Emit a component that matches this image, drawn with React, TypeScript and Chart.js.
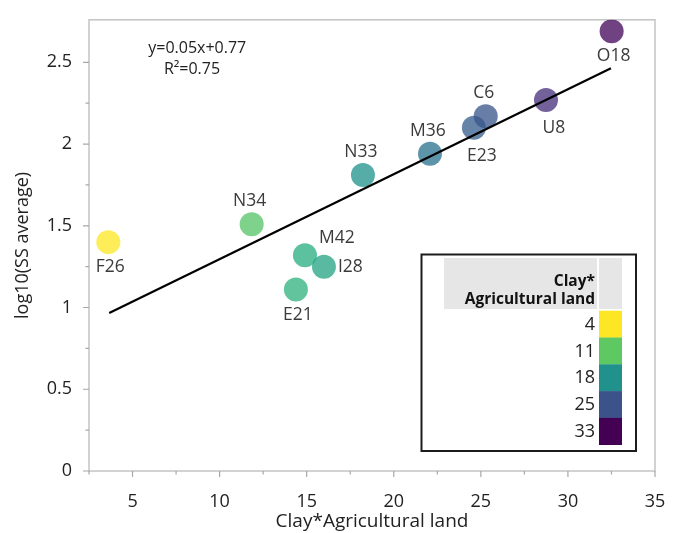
import React, { useEffect, useRef } from 'react';
import { Chart, registerables } from 'chart.js';

Chart.register(...registerables);

// ---------- data ----------
const siteLabels = ['F26', 'N34', 'M42', 'I28', 'E21', 'N33', 'M36', 'E23', 'C6', 'U8', 'O18'];
const clayAgri = [3.61, 11.84, 14.9, 15.99, 14.38, 18.23, 22.08, 24.6, 25.28, 28.74, 32.51];
const logSS = [1.4, 1.51, 1.32, 1.25, 1.11, 1.81, 1.94, 2.1, 2.17, 2.27, 2.69];
const labelPlacement = ['below', 'above', 'aboveRight', 'right', 'below', 'above', 'above', 'belowRight', 'above', 'belowRight', 'below'];
const fitX = [3.66, 32.47];
const fitY = [0.966, 2.464];
const xTicks = [5, 10, 15, 20, 25, 30, 35];
const xMinorTicks = [2.5, 7.5, 12.5, 17.5, 22.5, 27.5, 32.5];
const yTicks = [0, 0.5, 1, 1.5, 2, 2.5];
const yMinorTicks = [0.25, 0.75, 1.25, 1.75, 2.25];
const legendValues = [4, 11, 18, 25, 33];
const equationText = 'y=0.05x+0.77';
const r2Text = 'R²=0.75';
const xTitle = 'Clay*Agricultural land';
const yTitle = 'log10(SS average)';
const legendTitle = ['Clay*', 'Agricultural land'];

const FONT = "'Open Sans', 'Noto Sans', sans-serif";

// viridis colour map
const VIRIDIS = ['#440154', '#482878', '#3b528b', '#2c728e', '#21918c', '#27ad81', '#5ec962', '#aadc32', '#fde725'];
function hexToRgb(h: string) {
  const n = parseInt(h.slice(1), 16);
  return [(n >> 16) & 255, (n >> 8) & 255, n & 255];
}
function viridis(v: number, alpha = 1) {
  const lo = legendValues[0];
  const hi = legendValues[legendValues.length - 1];
  let t = (hi - v) / (hi - lo);
  t = Math.max(0, Math.min(1, t));
  const pos = t * (VIRIDIS.length - 1);
  const i = Math.min(VIRIDIS.length - 2, Math.floor(pos));
  const f = pos - i;
  const a = hexToRgb(VIRIDIS[i]);
  const b = hexToRgb(VIRIDIS[i + 1]);
  const c = a.map((x, k) => Math.round(x + (b[k] - x) * f));
  return `rgba(${c[0]},${c[1]},${c[2]},${alpha})`;
}
const legendColors = ['#fde725', '#5ec962', '#21918c', '#3b528b', '#440154'];

const overlayPlugin = {
  id: 'overlay',
  beforeDatasetsDraw(chart: any) {
    const { ctx, chartArea: a } = chart;
    ctx.save();
    ctx.strokeStyle = '#c4c4c4';
    ctx.lineWidth = 1.5;
    ctx.strokeRect(a.left, a.top, a.right - a.left, a.bottom - a.top);
    ctx.restore();
  },
  afterDatasetsDraw(chart: any) {
    const { ctx } = chart;
    const xs = chart.scales.x;
    const ys = chart.scales.y;
    const meta = chart.getDatasetMeta(1);
    ctx.save();
    ctx.font = `17.5px ${FONT}`;
    ctx.fillStyle = '#3a3a3a';
    ctx.textBaseline = 'middle';
    meta.data.forEach((el: any, i: number) => {
      const p = labelPlacement[i];
      let dx = 0, dy = 0, align: CanvasTextAlign = 'center';
      if (p === 'below') { dx = 2; dy = 25; }
      else if (p === 'above') { dx = -2; dy = -23; }
      else if (p === 'belowRight') { dx = 8; dy = 28; }
      else if (p === 'aboveRight') { dx = 32; dy = -17; }
      else if (p === 'right') { dx = 14; dy = 0; align = 'left'; }
      ctx.textAlign = align;
      ctx.fillText(siteLabels[i], el.x + dx, el.y + dy);
    });
    // regression equation
    ctx.font = `16px ${FONT}`;
    ctx.fillStyle = '#222';
    ctx.textAlign = 'left';
    ctx.fillText(equationText, xs.getPixelForValue(5.9), ys.getPixelForValue(2.586));
    ctx.fillText(r2Text, xs.getPixelForValue(6.8), ys.getPixelForValue(2.458));
    ctx.restore();
  },
  afterDraw(chart: any) {
    const { ctx, chartArea: a } = chart;
    const xs = chart.scales.x;
    const ys = chart.scales.y;
    ctx.save();
    ctx.strokeStyle = '#a8a8a8';
    ctx.lineWidth = 1.2;
    ctx.beginPath();
    xTicks.forEach((v) => { const px = xs.getPixelForValue(v); ctx.moveTo(px, a.bottom); ctx.lineTo(px, a.bottom + 6); });
    xMinorTicks.forEach((v) => { const px = xs.getPixelForValue(v); ctx.moveTo(px, a.bottom); ctx.lineTo(px, a.bottom + 3.5); });
    yTicks.forEach((v) => { const py = ys.getPixelForValue(v); ctx.moveTo(a.left, py); ctx.lineTo(a.left - 6, py); });
    yMinorTicks.forEach((v) => { const py = ys.getPixelForValue(v); ctx.moveTo(a.left, py); ctx.lineTo(a.left - 3.5, py); });
    ctx.stroke();

    // colour legend
    const bx = 421.5, by = 254.5, bw = 214.5, bh = 196.5;
    ctx.fillStyle = '#ffffff';
    ctx.fillRect(bx, by, bw, bh);
    ctx.fillStyle = '#e6e6e6';
    ctx.fillRect(444, 258, 153, 51);
    ctx.fillRect(599, 258, 23, 51);
    ctx.fillStyle = '#111';
    ctx.font = `bold 15.5px ${FONT}`;
    ctx.textAlign = 'right';
    ctx.textBaseline = 'middle';
    ctx.fillText(legendTitle[0], 595, 282);
    ctx.fillText(legendTitle[1], 595, 300);
    const sh = 26.8;
    ctx.font = `18px ${FONT}`;
    legendValues.forEach((v, i) => {
      const y0 = 310.7 + i * sh;
      ctx.fillStyle = legendColors[i];
      ctx.fillRect(599, y0, 23, sh + 0.3);
      ctx.fillStyle = '#222';
      ctx.fillText(String(v), 595, y0 + sh / 2 + 0.5);
    });
    ctx.strokeStyle = '#1c1c1c';
    ctx.lineWidth = 2;
    ctx.strokeRect(bx, by, bw, bh);
    ctx.restore();
  },
};

export default function App() {
  const ref = useRef<HTMLCanvasElement>(null);
  useEffect(() => {
    if (!ref.current) return;
    const chart = new Chart(ref.current, {
      type: 'scatter',
      data: {
        datasets: [
          {
            type: 'line',
            data: fitX.map((x, i) => ({ x, y: fitY[i] })),
            borderColor: '#000',
            borderWidth: 2.2,
            pointRadius: 0,
            showLine: true,
            fill: false,
          } as any,
          {
            data: clayAgri.map((x, i) => ({ x, y: logSS[i] })),
            backgroundColor: clayAgri.map((v) => viridis(v, 0.76)),
            borderColor: clayAgri.map((v) => viridis(v, 0.5)),
            borderWidth: 0,
            pointRadius: 12,
            pointHoverRadius: 12,
          },
        ],
      },
      options: {
        responsive: false,
        animation: false,
        events: [],
        layout: { padding: { top: 12, right: 25, left: 0, bottom: 0 } },
        plugins: { legend: { display: false }, tooltip: { enabled: false } },
        scales: {
          x: {
            type: 'linear',
            min: 2.5,
            max: 35,
            afterBuildTicks: (s: any) => { s.ticks = xTicks.map((v) => ({ value: v })); },
            afterFit: (s: any) => { s.height = 62; },
            grid: { display: false },
            border: { display: false },
            ticks: {
              autoSkip: false,
              maxRotation: 0,
              padding: 12,
              color: '#222',
              font: { family: FONT, size: 18 },
              callback: (v: any) => String(v),
            },
            title: {
              display: true,
              text: xTitle,
              color: '#222',
              font: { family: FONT, size: 19 },
              padding: { top: 0, bottom: 0 },
            },
          },
          y: {
            type: 'linear',
            min: 0,
            max: 2.76,
            afterBuildTicks: (s: any) => { s.ticks = yTicks.map((v) => ({ value: v })); },
            afterFit: (s: any) => { s.width = 89; },
            grid: { display: false },
            border: { display: false },
            ticks: {
              autoSkip: false,
              padding: 9,
              color: '#222',
              font: { family: FONT, size: 18 },
              callback: (v: any) => String(v),
            },
            title: {
              display: true,
              text: yTitle,
              color: '#222',
              font: { family: FONT, size: 18 },
              padding: { top: 12, bottom: 0 },
            },
          },
        },
      },
      plugins: [overlayPlugin],
    });
    return () => chart.destroy();
  }, []);
  return (
    <div style={{ position: 'fixed', left: 0, top: 0, width: 680, height: 533, background: '#fff' }}>
      <canvas ref={ref} width={680} height={533} />
    </div>
  );
}
